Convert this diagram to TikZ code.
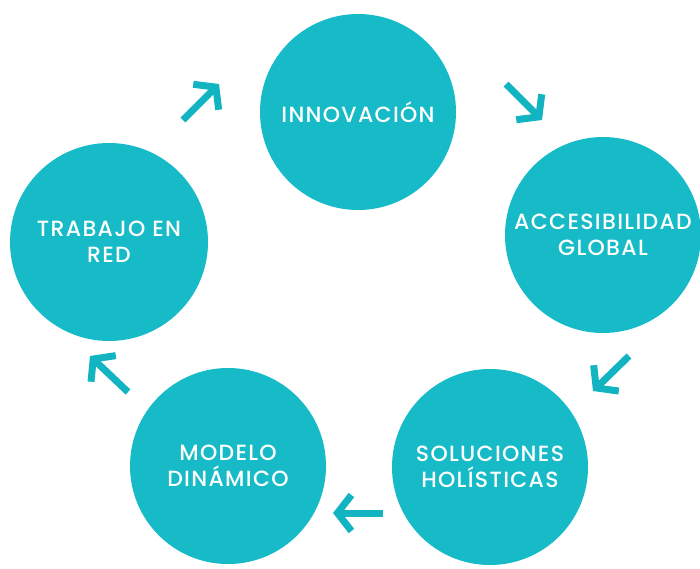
\documentclass[tikz,border=0pt]{standalone}
\usepackage{fontspec}
\setmainfont{Poppins Medium}[LetterSpace=6]
\usetikzlibrary{arrows.meta}
\definecolor{teal1}{RGB}{22,187,199}
\definecolor{teal2}{RGB}{18,180,193}
\tikzset{
  bub/.style={circle, fill=teal1, minimum size=196pt, inner sep=0pt, text=white, align=center, font=\fontsize{22}{26}\selectfont},
  flow/.style={teal2, line width=7pt, -{Straight Barb[length=14pt, width=36pt, line width=7pt, line cap=butt, line join=miter]}}
}
\begin{document}
\begin{tikzpicture}[x=1pt,y=-1pt]
\useasboundingbox (0,0) rectangle (700,568);
\node[bub] (inn) at (358,112) {INNOVACIÓN};
\node[bub] (acc) at (603,235) {ACCESIBILIDAD\\GLOBAL};
\node[bub] (sol) at (490,467) {SOLUCIONES\\HOLÍSTICAS};
\node[bub] (mod) at (228,466) {MODELO\\DINÁMICO};
\node[bub, minimum size=198pt] (tra) at (109,242) {TRABAJO EN\\RED};
\coordinate (a1s) at (183,120); \coordinate (a1e) at (219,84);
\coordinate (a2s) at (506,84); \coordinate (a2e) at (542,120);
\coordinate (a3s) at (629,356); \coordinate (a3e) at (593,391);
\coordinate (a4s) at (383,513); \coordinate (a4e) at (333,513);
\coordinate (a5s) at (128,392); \coordinate (a5e) at (90,356);
\draw[flow] (a1s) -- (a1e);
\draw[flow] (a2s) -- (a2e);
\draw[flow] (a3s) -- (a3e);
\draw[flow] (a4s) -- (a4e);
\draw[flow] (a5s) -- (a5e);
\end{tikzpicture}
\end{document}
